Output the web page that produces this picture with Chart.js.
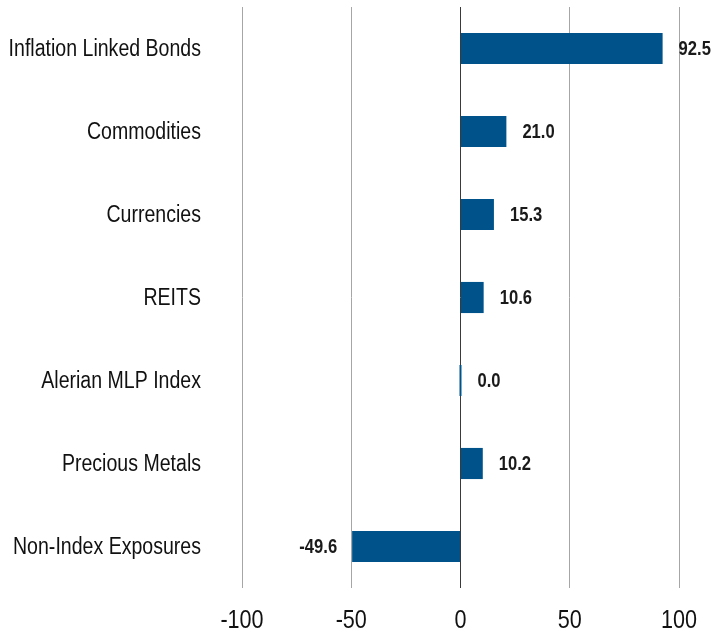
<!DOCTYPE html>
<html>
<head>
<meta charset="utf-8">
<script src="https://cdn.jsdelivr.net/npm/chart.js@4.4.1/dist/chart.umd.min.js"></script>
<style>
    html, body { margin: 0; padding: 0; background: #fff; }
    #wrap { width: 712px; height: 638px; }
</style>
</head>
<body>
<div id="wrap"><canvas id="exposureChart"></canvas></div>
<script>
const categories = ['Inflation Linked Bonds', 'Commodities', 'Currencies', 'REITS', 'Alerian MLP Index', 'Precious Metals', 'Non-Index Exposures']
const values = [92.5, 21.0, 15.3, 10.6, 0.0, 10.2, -49.6]
const xTicks = [-100, -50, 0, 50, 100]

const BAR_COLOR = '#00538a'
const FONT = "'Liberation Sans', Arial, sans-serif"

// the original uses a narrow face, so squeeze the regular one
const drawNarrow = (ctx, text, x, y, align, squeeze) => {
    ctx.save()
    ctx.translate(x, y)
    ctx.scale(squeeze, 1)
    ctx.textAlign = align
    ctx.fillText(text, 0, 0)
    ctx.restore()
}

const axisLabels = {
    id: 'axisLabels',
    afterDraw(chart) {
        const {ctx, chartArea, scales: {x, y}} = chart
        ctx.save()
        ctx.fillStyle = '#111'
        ctx.textBaseline = 'middle'
        ctx.font = `23px ${FONT}`
        categories.forEach((c, i) => {
            drawNarrow(ctx, c, 201, y.getPixelForValue(i) + 1, 'right', 0.85)
        })
        ctx.font = `26px ${FONT}`
        xTicks.forEach(v => {
            drawNarrow(ctx, String(v), x.getPixelForValue(v), chartArea.bottom + 33, 'center', 0.83)
        })
        ctx.restore()
    }
}

const valueLabels = {
    id: 'valueLabels',
    afterDatasetsDraw(chart) {
        const {ctx} = chart
        const meta = chart.getDatasetMeta(0)
        ctx.save()
        ctx.font = `bold 20px ${FONT}`
        ctx.fillStyle = '#1a1a1a'
        ctx.textBaseline = 'middle'
        meta.data.forEach((bar, i) => {
            const v = values[i]
            const text = v.toFixed(1)
            if (v < 0) {
                drawNarrow(ctx, text, Math.min(bar.x, bar.base) - 15, bar.y + 1, 'right', 0.83)
            } else {
                drawNarrow(ctx, text, Math.max(bar.x, bar.base) + 16, bar.y + 1, 'left', 0.83)
            }
        })
        ctx.restore()
    }
}

new Chart(document.getElementById('exposureChart').getContext('2d'), {
    type: 'bar',
    data: {
        labels: categories,
        datasets: [{
            data: values,
            backgroundColor: BAR_COLOR,
            borderWidth: 0,
            minBarLength: 2,
            barPercentage: 0.75,
            categoryPercentage: 0.5,
        }]
    },
    options: {
        indexAxis: 'y',
        responsive: true,
        maintainAspectRatio: false,
        animation: false,
        layout: {
            padding: {top: 7, right: 33, left: 0, bottom: 0}
        },
        plugins: {
            legend: {display: false},
            tooltip: {enabled: false}
        },
        scales: {
            x: {
                min: -100,
                max: 100,
                afterBuildTicks: scale => {
                    scale.ticks = xTicks.map(v => ({value: v}))
                },
                afterFit: scale => {
                    scale.height = 50
                    scale.paddingLeft = 0
                    scale.paddingRight = 0
                },
                border: {display: false},
                grid: {
                    color: ctx => ctx.tick && ctx.tick.value === 0 ? '#3a3a3a' : '#a6a6a6',
                    lineWidth: 1,
                    drawTicks: false,
                },
                ticks: {display: false}
            },
            y: {
                afterFit: scale => {
                    scale.width = 242
                    scale.paddingTop = 0
                    scale.paddingBottom = 0
                },
                border: {display: false},
                grid: {display: false},
                ticks: {display: false}
            }
        }
    },
    plugins: [valueLabels, axisLabels]
})
</script>
</body>
</html>
